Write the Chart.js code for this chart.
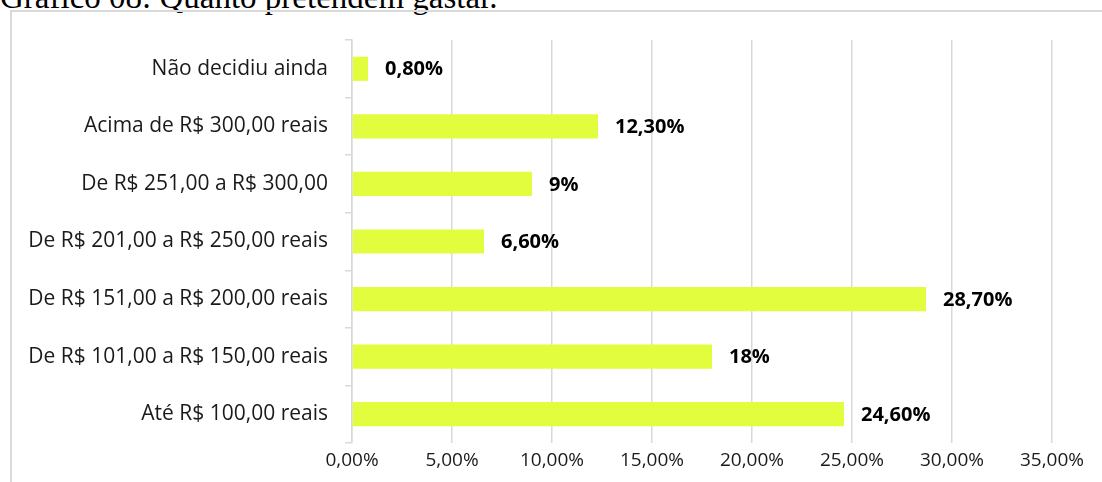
<!DOCTYPE html>
<html>
<head>
<meta charset="utf-8">
<script src="https://cdn.jsdelivr.net/npm/chart.js@4.4.1/dist/chart.umd.min.js"></script>
<style>
  html, body { margin: 0; padding: 0; background: #fff; }
  body { width: 1102px; height: 482px; position: relative; overflow: hidden; }
  #titulo {
    position: absolute; left: 0; top: -19px;
    font-family: 'Liberation Serif', 'Times New Roman', serif;
    font-size: 33px; line-height: 33px; color: #000; white-space: nowrap;
  }
  #moldura {
    position: absolute; left: 10px; top: 10px; width: 1100px; height: 480px;
    border: 2px solid #d9d9d9; box-sizing: border-box;
  }
  #grafico { position: absolute; left: 0; top: 0; }
</style>
</head>
<body>
<div id="titulo">Gráfico 08: Quanto pretendem gastar.</div>
<div id="moldura"></div>
<canvas id="grafico" width="1102" height="482"></canvas>
<script>
// dados do grafico (de cima para baixo)
const categorias = [
    'Não decidiu ainda',
    'Acima de R$ 300,00 reais',
    'De R$ 251,00 a R$ 300,00',
    'De R$ 201,00 a R$ 250,00 reais',
    'De R$ 151,00 a R$ 200,00 reais',
    'De R$ 101,00 a R$ 150,00 reais',
    'Até R$ 100,00 reais'
];
const valores = [0.8, 12.3, 9, 6.6, 28.7, 18, 24.6];
const rotulos = ['0,80%', '12,30%', '9%', '6,60%', '28,70%', '18%', '24,60%'];
const eixoMax = 35;
const eixoPasso = 5;

const FONTE = "'Open Sans', sans-serif";

// plugin simples para os rotulos de dados
const rotulosPlugin = {
    id: 'rotulosDados',
    afterDatasetsDraw(chart) {
        const ctx = chart.ctx;
        const meta = chart.getDatasetMeta(0);
        ctx.save();
        ctx.font = "bold 20px " + FONTE;
        ctx.fillStyle = '#000';
        ctx.textAlign = 'left';
        ctx.textBaseline = 'middle';
        meta.data.forEach((bar, i) => {
            ctx.fillText(rotulos[i], bar.x + 17, bar.y + 1);
        });
        ctx.restore();
    }
};

const ctx = document.getElementById('grafico');
new Chart(ctx, {
    type: 'bar',
    data: {
        labels: categorias,
        datasets: [{
            data: valores,
            backgroundColor: '#e2fd3e',
            barPercentage: 0.42,
            categoryPercentage: 1
        }]
    },
    options: {
        indexAxis: 'y',
        responsive: false,
        animation: false,
        layout: { padding: { top: 40, right: 50, left: 0, bottom: 0 } },
        plugins: { legend: { display: false }, tooltip: { enabled: false } },
        scales: {
            x: {
                min: 0, max: eixoMax,
                afterFit: (s) => { s.height = 39; },
                grid: { color: '#d9d9d9', lineWidth: 1.5, drawTicks: false },
                border: { display: false },
                ticks: {
                    stepSize: eixoPasso,
                    padding: 6,
                    color: '#1a1a1a',
                    font: { family: FONTE, size: 19 },
                    callback: (v) => v.toFixed(2).replace('.', ',') + '%'
                }
            },
            y: {
                afterFit: (s) => { s.width = 352; },
                grid: { drawOnChartArea: false, drawTicks: true, tickLength: 7, offset: true, color: '#d9d9d9', lineWidth: 1.5 },
                border: { display: true, color: '#d9d9d9', width: 1.5 },
                ticks: {
                    padding: 17,
                    color: '#1a1a1a',
                    font: { family: FONTE, size: 21 }
                }
            }
        }
    },
    plugins: [rotulosPlugin]
});
</script>
</body>
</html>
